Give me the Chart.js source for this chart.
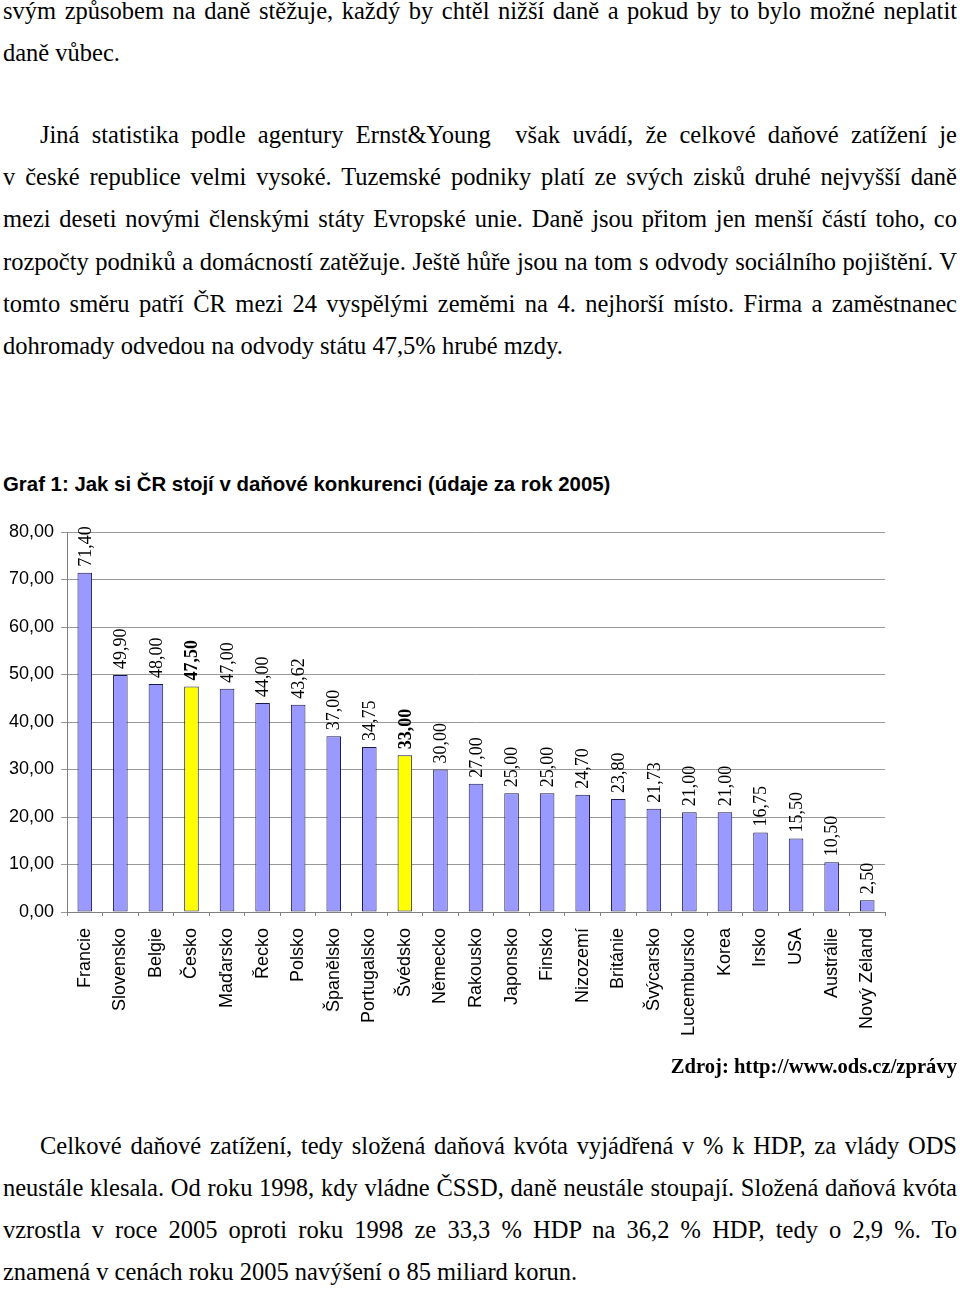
<!DOCTYPE html>
<html>
<head>
<meta charset="utf-8">
<script src="https://cdn.jsdelivr.net/npm/chart.js@4.4.0/dist/chart.umd.min.js"></script>
<style>
  html, body { margin: 0; padding: 0; background: #fff; }
  body { width: 960px; height: 1289px; position: relative; overflow: hidden; }
  .ln { position: absolute; left: 3px; width: 954px; height: 42px; line-height: 42px;
        font-family: "Liberation Serif", "Times New Roman", serif; font-size: 24.5px; color: #000;
        white-space: nowrap; text-align: justify; text-align-last: justify; }
  .ln.ind { left: 40px; width: 917px; }
  .ln.last { text-align: left; text-align-last: left; }
  #title { position: absolute; left: 3px; top: 470px; font-family: "Liberation Sans", Arial, sans-serif;
           font-weight: bold; font-size: 20.4px; line-height: 28px; color: #000; white-space: nowrap; }
  #src { position: absolute; right: 3px; top: 1052px; font-family: "Liberation Serif", "Times New Roman", serif;
         font-weight: bold; font-size: 20.6px; line-height: 28px; color: #000; white-space: nowrap; }
  #cv { position: absolute; left: 0; top: 500px; }
</style>
</head>
<body>
<div class="ln" style="top:-10px">svým způsobem na daně stěžuje, každý by chtěl nižší daně a pokud by to bylo možné neplatit</div>
<div class="ln last" style="top:32px">daně vůbec.</div>

<div class="ln ind" style="top:114px">Jiná statistika podle agentury Ernst&amp;Young &nbsp;však uvádí, že celkové daňové zatížení je</div>
<div class="ln" style="top:156px">v české republice velmi vysoké. Tuzemské podniky platí ze svých zisků druhé nejvyšší daně</div>
<div class="ln" style="top:198px">mezi deseti novými členskými státy Evropské unie. Daně jsou přitom jen menší částí toho, co</div>
<div class="ln" style="top:241px">rozpočty podniků a domácností zatěžuje. Ještě hůře jsou na tom s odvody sociálního pojištění. V</div>
<div class="ln" style="top:283px">tomto směru patří ČR mezi 24 vyspělými zeměmi na 4. nejhorší místo. Firma a zaměstnanec</div>
<div class="ln last" style="top:325px">dohromady odvedou na odvody státu 47,5% hrubé mzdy.</div>

<div id="title">Graf 1: Jak si ČR stojí v daňové konkurenci (údaje za rok 2005)</div>

<canvas id="cv" width="960" height="560"></canvas>

<div id="src">Zdroj: http://www.ods.cz/zprávy</div>

<div class="ln ind" style="top:1125px">Celkové daňové zatížení, tedy složená daňová kvóta vyjádřená v % k HDP, za vlády ODS</div>
<div class="ln" style="top:1167px">neustále klesala. Od roku 1998, kdy vládne ČSSD, daně neustále stoupají. Složená daňová kvóta</div>
<div class="ln" style="top:1209px">vzrostla v roce 2005 oproti roku 1998 ze 33,3 % HDP na 36,2 % HDP, tedy o 2,9 %. To</div>
<div class="ln last" style="top:1251px">znamená v cenách roku 2005 navýšení o 85 miliard korun.</div>

<script>
const countries = ["Francie","Slovensko","Belgie","Česko","Maďarsko","Řecko","Polsko","Španělsko",
  "Portugalsko","Švédsko","Německo","Rakousko","Japonsko","Finsko","Nizozemí","Británie",
  "Švýcarsko","Lucembursko","Korea","Irsko","USA","Austrálie","Nový Zéland"];
const values = [71.40,49.90,48.00,47.50,47.00,44.00,43.62,37.00,34.75,33.00,30.00,27.00,
  25.00,25.00,24.70,23.80,21.73,21.00,21.00,16.75,15.50,10.50,2.50];
const highlighted = ["Česko","Švédsko"];
const yTicks = [0,10,20,30,40,50,60,70,80];

const fmt = v => v.toFixed(2).replace('.', ',');
const isHi = c => highlighted.includes(c);

const labelPlugin = {
  id: 'barLabels',
  afterDatasetsDraw(chart) {
    const ctx = chart.ctx;
    const meta = chart.getDatasetMeta(0);
    meta.data.forEach((el, i) => {
      ctx.save();
      ctx.translate(el.x + 1, el.y - 6);
      ctx.rotate(-Math.PI / 2);
      ctx.font = (isHi(countries[i]) ? 'bold ' : '') + '18px "Liberation Serif", "Times New Roman", serif';
      ctx.fillStyle = '#000';
      ctx.textAlign = 'left';
      ctx.textBaseline = 'middle';
      ctx.fillText(fmt(values[i]), 0, 0);
      ctx.restore();
    });
  }
};

new Chart(document.getElementById('cv'), {
  type: 'bar',
  data: {
    labels: countries,
    datasets: [{
      data: values,
      backgroundColor: countries.map(c => isHi(c) ? '#FFFF00' : '#9999FF'),
      borderColor: '#1a1a4a',
      borderWidth: 1,
      borderSkipped: false,
      barPercentage: 0.41,
      categoryPercentage: 1.0
    }]
  },
  options: {
    responsive: false,
    animation: false,
    devicePixelRatio: 1,
    layout: { padding: { top: 32, right: 75, left: 0, bottom: 0 } },
    plugins: { legend: { display: false }, tooltip: { enabled: false }, title: { display: false } },
    scales: {
      x: {
        offset: true,
        grid: { offset: true, drawOnChartArea: false, drawTicks: true, tickLength: 4, color: '#808080' },
        border: { display: true, color: '#808080', width: 1 },
        ticks: {
          autoSkip: false, maxRotation: 90, minRotation: 90, padding: 12,
          color: '#000', font: { family: '"Liberation Sans", Arial, sans-serif', size: 18 }
        },
        afterFit(scale) { scale.height = 148; }
      },
      y: {
        min: 0, max: 80,
        afterBuildTicks(scale) { scale.ticks = yTicks.map(v => ({ value: v })); },
        grid: { color: '#999999', lineWidth: 1, drawTicks: true, tickLength: 6 },
        border: { display: true, color: '#808080', width: 1 },
        ticks: {
          padding: 7, color: '#000',
          font: { family: '"Liberation Sans", Arial, sans-serif', size: 18 },
          callback: v => fmt(v)
        },
        afterFit(scale) { scale.width = 67; }
      }
    }
  },
  plugins: [labelPlugin]
});
</script>
</body>
</html>
